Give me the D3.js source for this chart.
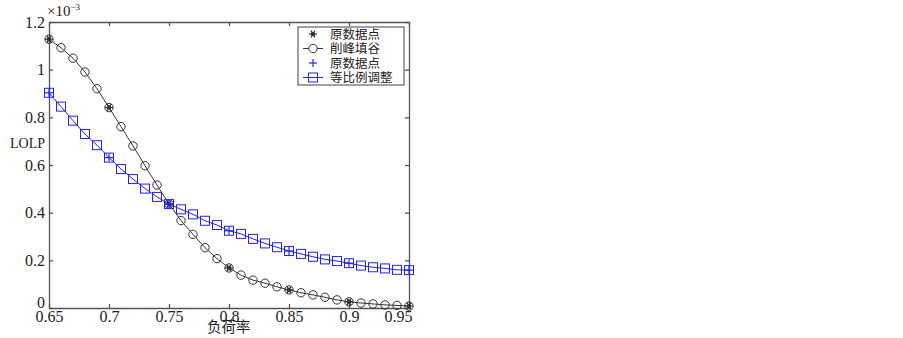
<!DOCTYPE html>
<html>
<head>
<meta charset="utf-8">
<script src="https://cdn.jsdelivr.net/npm/d3@7"></script>
<style>
    body { margin: 0; background: #fff; }
    svg text { font-family: "Liberation Serif", "Times New Roman", serif; fill: #222; }
    svg text.cjk { font-family: "Noto Sans CJK SC", sans-serif; }
    .axis path, .axis line { stroke: #555; stroke-width: 1.3; }
</style>
</head>
<body>
<div class="chart"></div>
<script>
(function () {
    "use strict";

    // 负荷率 0.65 .. 0.95, step 0.01
    var loadRate = [0.65, 0.66, 0.67, 0.68, 0.69, 0.70, 0.71, 0.72, 0.73, 0.74, 0.75,
        0.76, 0.77, 0.78, 0.79, 0.80, 0.81, 0.82, 0.83, 0.84, 0.85,
        0.86, 0.87, 0.88, 0.89, 0.90, 0.91, 0.92, 0.93, 0.94, 0.95];
    // LOLP (x10^-3), 削峰填谷
    var peakShaving = [1.128, 1.092, 1.048, 0.990, 0.920, 0.841, 0.761, 0.680, 0.597, 0.516, 0.436,
        0.367, 0.309, 0.253, 0.207, 0.168, 0.138, 0.117, 0.104, 0.089, 0.076,
        0.064, 0.055, 0.045, 0.034, 0.026, 0.021, 0.017, 0.013, 0.011, 0.008];
    // LOLP (x10^-3), 等比例调整
    var proportional = [0.903, 0.845, 0.786, 0.730, 0.683, 0.631, 0.583, 0.541, 0.501, 0.466, 0.436,
        0.414, 0.393, 0.366, 0.348, 0.324, 0.311, 0.290, 0.271, 0.255, 0.239,
        0.227, 0.215, 0.204, 0.197, 0.188, 0.178, 0.171, 0.166, 0.160, 0.159];
    // 原数据点 positions
    var originalRate = [0.65, 0.70, 0.75, 0.80, 0.85, 0.90, 0.95];
    var xTicks = [0.65, 0.7, 0.75, 0.8, 0.85, 0.9, 0.95];
    var yTicks = [0, 0.2, 0.4, 0.6, 0.8, 1, 1.2];
    var legendLabels = ['原数据点', '削峰填谷', '原数据点', '等比例调整'];

    var config = {
        width: 903,
        height: 338,
        plot: { left: 49, right: 409, top: 22, bottom: 308 },
        black: '#333',
        blue: '#2222ff'
    };

    function idx(r) {
        return loadRate.findIndex(function (v) { return Math.abs(v - r) < 1e-9; });
    }

    function asterisk(g, cx, cy, s, color) {
        [0, 60, 120].forEach(function (a) {
            var r = a * Math.PI / 180;
            g.append('line')
                .attr('x1', cx - s * Math.cos(r)).attr('y1', cy - s * Math.sin(r))
                .attr('x2', cx + s * Math.cos(r)).attr('y2', cy + s * Math.sin(r))
                .attr('stroke', color).attr('stroke-width', 1.2);
        });
        g.append('circle').attr('cx', cx).attr('cy', cy).attr('r', 2.2).attr('fill', color);
    }

    function plus(g, cx, cy, s, color) {
        g.append('line').attr('x1', cx - s).attr('x2', cx + s).attr('y1', cy).attr('y2', cy)
            .attr('stroke', color).attr('stroke-width', 1.2);
        g.append('line').attr('x1', cx).attr('x2', cx).attr('y1', cy - s).attr('y2', cy + s)
            .attr('stroke', color).attr('stroke-width', 1.2);
    }

    function draw() {
        var p = config.plot;
        var svg = d3.select('.chart').append('svg')
            .attr('width', config.width)
            .attr('height', config.height);

        var x = d3.scaleLinear().domain([0.65, 0.95]).range([p.left, p.right]);
        var y = d3.scaleLinear().domain([0, 1.2]).range([p.bottom, p.top]);
        var fmt = function (d) { return String(+d.toFixed(2)); };

        // axes (ticks pointing inwards, box style)
        var bottom = svg.append('g').attr('class', 'axis')
            .attr('transform', 'translate(0,' + p.bottom + ')')
            .call(d3.axisBottom(x).tickValues(xTicks).tickFormat(fmt).tickSizeInner(-4).tickSizeOuter(0).tickPadding(3));
        bottom.selectAll('text').attr('font-size', 16).attr('fill', '#222')
            .filter(function (d) { return d === 0.95; })
            .attr('text-anchor', 'end').attr('dx', 3);

        var left = svg.append('g').attr('class', 'axis')
            .attr('transform', 'translate(' + p.left + ',0)')
            .call(d3.axisLeft(y).tickValues(yTicks).tickFormat(fmt).tickSizeInner(-4).tickSizeOuter(0).tickPadding(4));
        left.selectAll('text').attr('font-size', 16).attr('fill', '#222')
            .filter(function (d) { return d === 0; })
            .attr('dy', '-0.05em');

        svg.append('g').attr('class', 'axis')
            .attr('transform', 'translate(0,' + p.top + ')')
            .call(d3.axisTop(x).tickValues(xTicks).tickFormat('').tickSizeInner(-4).tickSizeOuter(0));
        svg.append('g').attr('class', 'axis')
            .attr('transform', 'translate(' + p.right + ',0)')
            .call(d3.axisRight(y).tickValues(yTicks).tickFormat('').tickSizeInner(-4).tickSizeOuter(0));

        // exponent label
        var ex = svg.append('text').attr('x', 47).attr('y', 16).attr('font-size', 15);
        ex.append('tspan').text('×10');
        ex.append('tspan').attr('font-size', 9).attr('dy', -6).text('−3');

        svg.append('text').attr('x', 10).attr('y', 148).attr('font-size', 14).text('LOLP');
        svg.append('text').attr('class', 'cjk').attr('x', 207).attr('y', 332)
            .attr('font-size', 14.5).text('负荷率');

        var line = d3.line()
            .x(function (d) { return x(d[0]); })
            .y(function (d) { return y(d[1]); });

        var blackPts = loadRate.map(function (r, i) { return [r, peakShaving[i]]; });
        var bluePts = loadRate.map(function (r, i) { return [r, proportional[i]]; });

        svg.append('path').datum(blackPts).attr('d', line)
            .attr('fill', 'none').attr('stroke', config.black).attr('stroke-width', 1);
        svg.append('path').datum(bluePts).attr('d', line)
            .attr('fill', 'none').attr('stroke', config.blue).attr('stroke-width', 1);

        svg.append('g').selectAll('circle').data(blackPts).enter().append('circle')
            .attr('cx', function (d) { return x(d[0]); })
            .attr('cy', function (d) { return y(d[1]); })
            .attr('r', 4.2)
            .attr('fill', 'none').attr('stroke', config.black).attr('stroke-width', 1);

        svg.append('g').selectAll('rect').data(bluePts).enter().append('rect')
            .attr('x', function (d) { return x(d[0]) - 4.5; })
            .attr('y', function (d) { return y(d[1]) - 4.5; })
            .attr('width', 9).attr('height', 9)
            .attr('fill', 'none').attr('stroke', config.blue).attr('stroke-width', 1);

        var orig = svg.append('g');
        originalRate.forEach(function (r) {
            var i = idx(r);
            asterisk(orig, x(r), y(peakShaving[i]), 4, config.black);
            plus(orig, x(r), y(proportional[i]), 4, config.blue);
        });

        // legend
        var lg = svg.append('g');
        lg.append('rect').attr('x', 298).attr('y', 27).attr('width', 106).attr('height', 58)
            .attr('fill', '#fff').attr('stroke', '#444').attr('stroke-width', 1);
        var rows = [34, 48.5, 63, 77.5];
        var mx = 313;
        asterisk(lg, mx, rows[0], 4, config.black);
        lg.append('line').attr('x1', 303).attr('x2', 323).attr('y1', rows[1]).attr('y2', rows[1])
            .attr('stroke', config.black);
        lg.append('circle').attr('cx', mx).attr('cy', rows[1]).attr('r', 4.2)
            .attr('fill', '#fff').attr('stroke', config.black);
        plus(lg, mx, rows[2], 4, config.blue);
        lg.append('line').attr('x1', 303).attr('x2', 323).attr('y1', rows[3]).attr('y2', rows[3])
            .attr('stroke', config.blue);
        lg.append('rect').attr('x', mx - 4.5).attr('y', rows[3] - 4.5).attr('width', 9).attr('height', 9)
            .attr('fill', 'none').attr('stroke', config.blue);
        legendLabels.forEach(function (t, i) {
            lg.append('text').attr('class', 'cjk').attr('x', 330).attr('y', rows[i] + 4.5)
                .attr('font-size', 12.5).text(t);
        });
    }

    draw();
})();
</script>
</body>
</html>
